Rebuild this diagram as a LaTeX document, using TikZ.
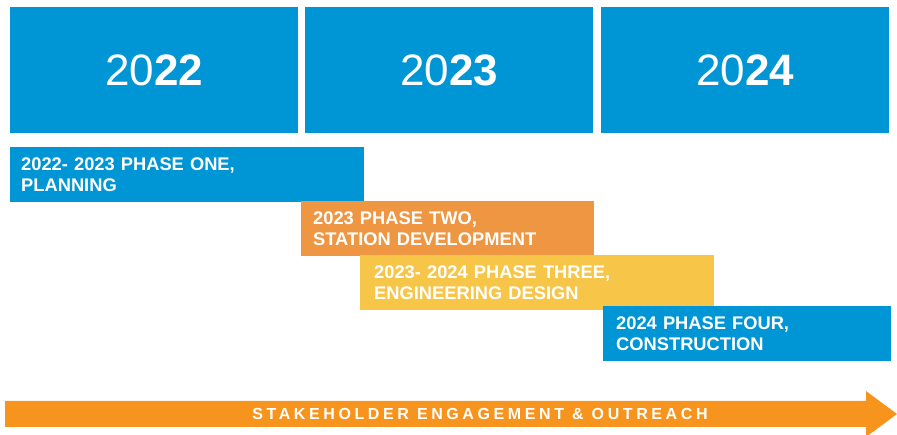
\documentclass[tikz,border=0pt]{standalone}
\usepackage{fontspec}
\setmainfont{Liberation Sans}
\newfontfamily\spacedfont[LetterSpace=22.5]{Liberation Sans}
\definecolor{tlblue}{RGB}{0,150,214}
\definecolor{tlorange}{RGB}{238,150,66}
\definecolor{tlyellow}{RGB}{247,197,72}
\definecolor{tlarrow}{RGB}{247,148,30}
\newcommand{\yearlabel}[2]{#1\textbf{#2}}
\tikzset{
  yearbox/.style={fill=tlblue,text=white,minimum width=288pt,minimum height=126pt,
    inner sep=0pt,font=\fontsize{44}{44}\selectfont},
  phasebox/.style={anchor=north west,text=white,align=left,inner xsep=11pt,
    inner ysep=0pt,font=\fontsize{18.3}{21}\selectfont\bfseries}
}
\begin{document}
\begin{tikzpicture}[x=1pt,y=-1pt]
  \useasboundingbox (0,0) rectangle (897,435);
  % year headers
  \node[yearbox] (Y22) at (154,70) {\yearlabel{20}{22}};
  \node[yearbox] (Y23) at (449,70) {\yearlabel{20}{23}};
  \node[yearbox] (Y24) at (745,70) {\yearlabel{20}{24}};

  % phases
  \node[phasebox,fill=tlblue,text width=332pt,minimum height=55pt] (P1) at (10,147)
    {2022- 2023 PHASE ONE,\\PLANNING};
  \node[phasebox,fill=tlorange,text width=269pt,minimum height=55pt,inner xsep=12pt] (P2) at (301,201)
    {2023 PHASE TWO,\\STATION DEVELOPMENT};
  \node[phasebox,fill=tlyellow,minimum height=55pt,inner xsep=14pt,
    text width=326pt] (P3) at (360,255)
    {2023- 2024 PHASE THREE,\\ENGINEERING DESIGN};
  \node[phasebox,fill=tlblue,text width=262pt,minimum height=55pt,inner xsep=13pt] (P4) at (603,306)
    {2024 PHASE FOUR,\\CONSTRUCTION};

  % outreach arrow
  \fill[tlarrow] (5,401) -- (866,401) -- (866,391) -- (897,414) -- (866,437)
    -- (866,427) -- (5,427) -- cycle;
  \node[text=white,font=\fontsize{16}{16}\selectfont\bfseries\spacedfont] (OUT) at (480,414)
    {STAKEHOLDER ENGAGEMENT \& OUTREACH};
\end{tikzpicture}
\end{document}
